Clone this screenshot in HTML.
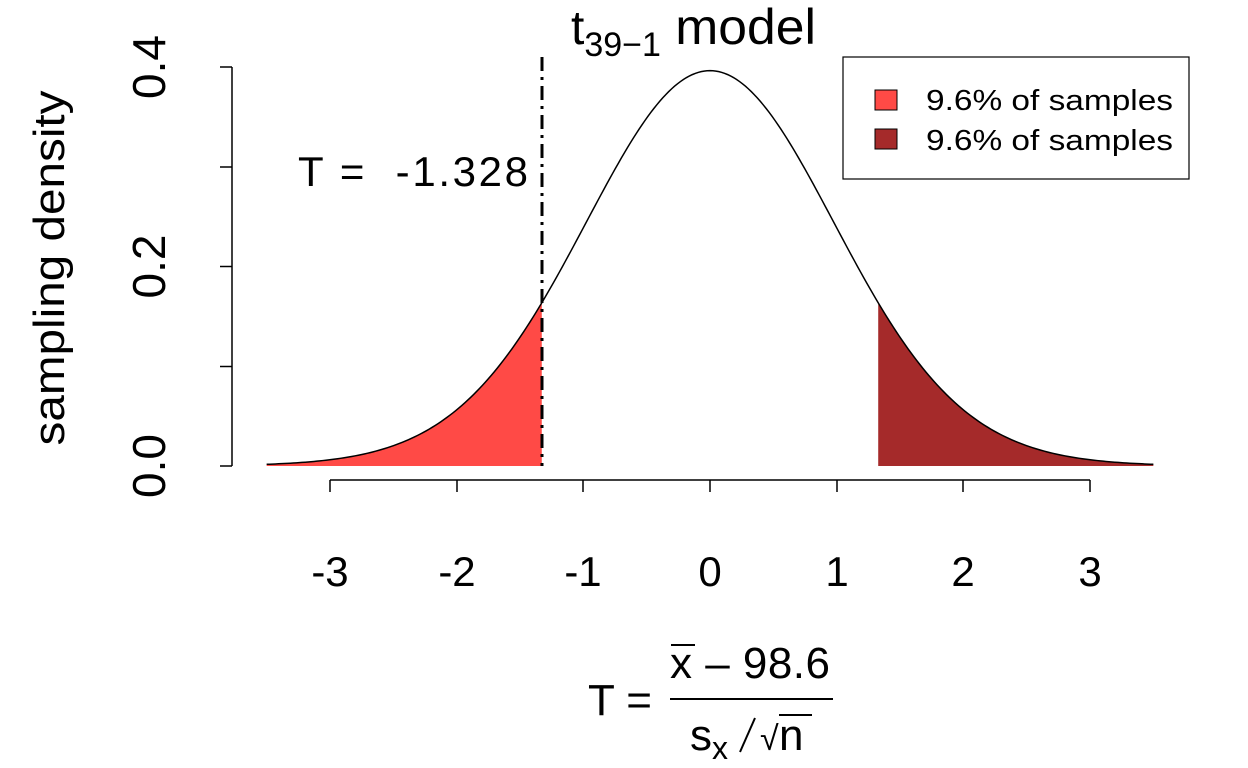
<!DOCTYPE html>
<html><head><style>body{margin:0;background:#fff}svg{display:block}text{font-family:"Liberation Sans",Arial,sans-serif;fill:#000;white-space:pre}</style></head>
<body>
<svg id="s" width="1248" height="768" viewBox="0 0 1248 768" xmlns="http://www.w3.org/2000/svg">
<g id="g"></g>
<line x1="232" y1="67" x2="232" y2="466" stroke="#000" stroke-width="1.5"/>
<g stroke="#000" stroke-width="1.5">
<line x1="220" y1="466" x2="232" y2="466"/><line x1="220" y1="366.5" x2="232" y2="366.5"/><line x1="220" y1="266.5" x2="232" y2="266.5"/><line x1="220" y1="167" x2="232" y2="167"/><line x1="220" y1="67" x2="232" y2="67"/>
<line x1="330" y1="480" x2="1090" y2="480"/>
<line x1="330" y1="480" x2="330" y2="492"/><line x1="457" y1="480" x2="457" y2="492"/><line x1="583" y1="480" x2="583" y2="492"/><line x1="710" y1="480" x2="710" y2="492"/><line x1="837" y1="480" x2="837" y2="492"/><line x1="963" y1="480" x2="963" y2="492"/><line x1="1090" y1="480" x2="1090" y2="492"/>
</g>
<g font-size="46" text-anchor="middle">
<text transform="translate(165,466) rotate(-90)">0.0</text>
<text transform="translate(165,266.5) rotate(-90)">0.2</text>
<text transform="translate(165,67) rotate(-90)">0.4</text>
<text x="330" y="586" font-size="42">-3</text><text x="457" y="586" font-size="42">-2</text><text x="583" y="586" font-size="42">-1</text><text x="710" y="586" font-size="42">0</text><text x="837" y="586" font-size="42">1</text><text x="963" y="586" font-size="42">2</text><text x="1090" y="586" font-size="42">3</text>
<text transform="translate(64,268) rotate(-90)" font-size="44" textLength="355" lengthAdjust="spacingAndGlyphs">sampling density</text>
</g>
<text x="571" y="44" font-size="48">t<tspan font-size="34" dy="12">39−1</tspan><tspan dy="-12" font-size="50" textLength="155" lengthAdjust="spacingAndGlyphs"> model</tspan></text>
<text x="298" y="186" font-size="42" textLength="230" lengthAdjust="spacing">T =  -1.328</text>
<line x1="542" y1="57" x2="542" y2="466" stroke="#000" stroke-width="3" stroke-dasharray="14,6,3,6"/>
<rect x="843" y="57" width="346" height="122" fill="#fff" stroke="#000" stroke-width="1.2"/>
<rect x="875" y="90" width="22" height="20" fill="#FF4A46" stroke="#000"/>
<rect x="875" y="129" width="22" height="20" fill="#A52A2A" stroke="#000"/>
<text x="926" y="110" font-size="29" textLength="247" lengthAdjust="spacingAndGlyphs">9.6% of samples</text>
<text x="926" y="150" font-size="29" textLength="247" lengthAdjust="spacingAndGlyphs">9.6% of samples</text>
<text x="588" y="715" font-size="44">T =</text>
<line x1="670" y1="699" x2="833" y2="699" stroke="#000" stroke-width="2"/>
<line x1="671" y1="645" x2="695" y2="645" stroke="#000" stroke-width="2"/>
<text x="670" y="678" font-size="44" textLength="160" lengthAdjust="spacing">x – 98.6</text>
<text x="690" y="750" font-size="44">s<tspan font-size="32" dy="9">x</tspan></text>
<line x1="740" y1="752" x2="755" y2="718" stroke="#000" stroke-width="2"/>
<text x="760" y="750" font-size="34">√</text>
<line x1="779" y1="715" x2="812" y2="715" stroke="#000" stroke-width="2"/>
<text x="779" y="750" font-size="44">n</text>
</svg>
<script>
var c=0.39633,X=t=>710+t*126.67,Y=d=>466-d*997.5,f=t=>c*Math.pow(1+t*t/38,-19.5);
function pts(a,b){var p=[];for(var i=0;i<=300;i++){var t=a+(b-a)*i/300;p.push(X(t).toFixed(2)+","+Y(f(t)).toFixed(2));}return p;}
var g=document.getElementById('g'),ns="http://www.w3.org/2000/svg";
function add(d,fill,stroke){var e=document.createElementNS(ns,'path');e.setAttribute('d',d);e.setAttribute('fill',fill);if(stroke){e.setAttribute('stroke',stroke);e.setAttribute('stroke-width','1.5');}g.appendChild(e);}
add("M"+X(-3.5)+","+Y(0)+" L"+pts(-3.5,-1.328).join(" L")+" L"+X(-1.328)+","+Y(0)+"Z","#FF4A46");
add("M"+X(1.328)+","+Y(0)+" L"+pts(1.328,3.5).join(" L")+" L"+X(3.5)+","+Y(0)+"Z","#A52A2A");
add("M"+pts(-3.5,3.5).join(" L"),"none","#000");
</script>
</body></html>
